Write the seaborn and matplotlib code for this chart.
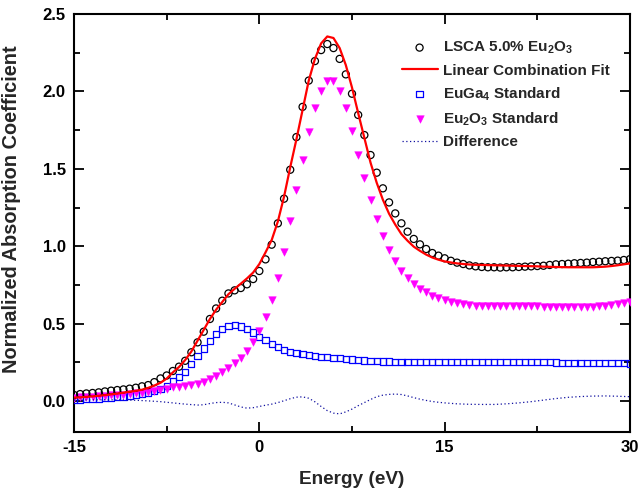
import numpy as np
import pandas as pd
import matplotlib
matplotlib.use("Agg")
import matplotlib.pyplot as plt
import seaborn as sns

# ---------------- data ----------------
energy = [-15, -14.5, -14, -13.5, -13, -12.5, -12, -11.5, -11, -10.5,
          -10, -9.5, -9, -8.5, -8, -7.5, -7, -6.5, -6, -5.5,
          -5, -4.5, -4, -3.5, -3, -2.5, -2, -1.5, -1, -0.5,
          0, 0.5, 1, 1.5, 2, 2.5, 3, 3.5, 4, 4.5,
          5, 5.5, 6, 6.5, 7, 7.5, 8, 8.5, 9, 9.5,
          10, 10.5, 11, 11.5, 12, 12.5, 13, 13.5, 14, 14.5,
          15, 15.5, 16, 16.5, 17, 17.5, 18, 18.5, 19, 19.5,
          20, 20.5, 21, 21.5, 22, 22.5, 23, 23.5, 24, 24.5,
          25, 25.5, 26, 26.5, 27, 27.5, 28, 28.5, 29, 29.5, 30]

lsca = [0.039, 0.045, 0.049, 0.052, 0.056, 0.062, 0.067, 0.071, 0.075, 0.080,
        0.086, 0.095, 0.103, 0.122, 0.146, 0.165, 0.194, 0.222, 0.260, 0.315,
        0.379, 0.448, 0.530, 0.598, 0.648, 0.695, 0.715, 0.730, 0.754, 0.788,
        0.840, 0.915, 1.010, 1.148, 1.307, 1.494, 1.705, 1.900, 2.070, 2.196,
        2.267, 2.306, 2.280, 2.210, 2.110, 1.985, 1.848, 1.718, 1.589, 1.475,
        1.374, 1.283, 1.212, 1.148, 1.094, 1.047, 1.012, 0.982, 0.956, 0.939,
        0.922, 0.906, 0.894, 0.885, 0.876, 0.870, 0.866, 0.864, 0.864, 0.862,
        0.864, 0.864, 0.866, 0.868, 0.870, 0.872, 0.874, 0.879, 0.883, 0.885,
        0.887, 0.890, 0.892, 0.894, 0.898, 0.900, 0.903, 0.905, 0.907, 0.911, 0.917]

fit = [0.022, 0.024, 0.027, 0.030, 0.034, 0.038, 0.043, 0.048, 0.054, 0.060,
       0.066, 0.073, 0.085, 0.100, 0.118, 0.145, 0.185, 0.220, 0.265, 0.320,
       0.390, 0.460, 0.530, 0.590, 0.640, 0.690, 0.725, 0.758, 0.792, 0.830,
       0.885, 0.960, 1.040, 1.160, 1.320, 1.510, 1.690, 1.880, 2.070, 2.210,
       2.310, 2.355, 2.345, 2.280, 2.170, 2.025, 1.860, 1.700, 1.540, 1.410,
       1.300, 1.210, 1.140, 1.078, 1.035, 0.997, 0.970, 0.946, 0.927, 0.913,
       0.902, 0.895, 0.889, 0.885, 0.882, 0.880, 0.879, 0.878, 0.877, 0.876,
       0.875, 0.874, 0.873, 0.872, 0.871, 0.870, 0.868, 0.867, 0.866, 0.865,
       0.864, 0.864, 0.864, 0.864, 0.864, 0.866, 0.868, 0.872, 0.877, 0.883, 0.889]

euga4 = [0.008, 0.010, 0.012, 0.014, 0.016, 0.019, 0.022, 0.025, 0.029, 0.034,
         0.040, 0.047, 0.055, 0.066, 0.080, 0.099, 0.127, 0.153, 0.190, 0.239,
         0.291, 0.340, 0.390, 0.431, 0.463, 0.484, 0.490, 0.482, 0.465, 0.443,
         0.416, 0.392, 0.368, 0.347, 0.330, 0.319, 0.308, 0.302, 0.295, 0.289,
         0.284, 0.282, 0.278, 0.276, 0.272, 0.268, 0.265, 0.262, 0.260, 0.258,
         0.256, 0.255, 0.254, 0.253, 0.253, 0.253, 0.253, 0.253, 0.254, 0.254,
         0.254, 0.254, 0.254, 0.254, 0.254, 0.254, 0.254, 0.253, 0.253, 0.253,
         0.253, 0.253, 0.253, 0.252, 0.252, 0.251, 0.250, 0.250, 0.249, 0.248,
         0.248, 0.247, 0.247, 0.246, 0.246, 0.245, 0.245, 0.244, 0.244, 0.244, 0.243]

eu2o3 = [0.022, 0.024, 0.026, 0.028, 0.030, 0.033, 0.036, 0.039, 0.042, 0.046,
         0.050, 0.055, 0.060, 0.065, 0.071, 0.080, 0.088, 0.092, 0.097, 0.103,
         0.110, 0.122, 0.140, 0.161, 0.185, 0.215, 0.246, 0.281, 0.325, 0.381,
         0.452, 0.545, 0.653, 0.795, 0.963, 1.160, 1.363, 1.559, 1.740, 1.891,
         2.003, 2.065, 2.065, 2.003, 1.891, 1.746, 1.589, 1.438, 1.298, 1.173,
         1.066, 0.975, 0.904, 0.842, 0.793, 0.754, 0.724, 0.702, 0.680, 0.663,
         0.652, 0.642, 0.633, 0.627, 0.620, 0.616, 0.614, 0.612, 0.612, 0.614,
         0.616, 0.614, 0.614, 0.614, 0.612, 0.612, 0.609, 0.609, 0.607, 0.607,
         0.605, 0.605, 0.605, 0.607, 0.609, 0.614, 0.616, 0.620, 0.625, 0.633, 0.642]

diff_energy = [-15, -14, -13, -12, -11, -10, -9, -8, -7, -6,
               -5, -4.5, -4, -3.5, -3, -2.5, -2, -1.5, -1, -0.5,
               0, 0.5, 1, 1.5, 2, 2.5, 3, 3.5, 4, 4.5,
               5, 5.5, 6, 6.5, 7, 7.5, 8, 8.5, 9, 9.5,
               10, 10.5, 11, 11.5, 12, 12.5, 13, 13.5, 14, 14.5,
               15, 16, 17, 18, 19, 20, 21, 22, 23, 24,
               25, 26, 27, 28, 29, 30]
difference = [0.006, 0.007, 0.008, 0.008, 0.007, 0.005, 0.001, -0.004, -0.012, -0.020,
              -0.026, -0.024, -0.016, -0.010, -0.008, -0.012, -0.025, -0.038, -0.046, -0.043,
              -0.035, -0.027, -0.020, -0.010, 0.002, 0.015, 0.025, 0.027, 0.018, -0.005,
              -0.035, -0.062, -0.078, -0.083, -0.070, -0.052, -0.030, -0.010, 0.010, 0.028,
              0.038, 0.043, 0.045, 0.042, 0.033, 0.022, 0.012, 0.004, -0.003, -0.008,
              -0.012, -0.018, -0.021, -0.022, -0.022, -0.018, -0.012, -0.004, 0.006, 0.016,
              0.024, 0.029, 0.032, 0.033, 0.031, 0.028]

x_ticks = [-15, 0, 15, 30]
y_ticks = [0.0, 0.5, 1.0, 1.5, 2.0, 2.5]

# ---------------- style ----------------
sns.set_theme(style="ticks")
plt.rcParams["font.family"] = ["Liberation Sans", "DejaVu Sans"]
plt.rcParams["font.weight"] = "bold"
plt.rcParams["mathtext.fontset"] = "custom"
plt.rcParams["mathtext.rm"] = "Liberation Sans:bold"
plt.rcParams["mathtext.bf"] = "Liberation Sans:bold"
plt.rcParams["mathtext.it"] = "Liberation Sans:bold"
plt.rcParams["mathtext.default"] = "bf"

fig = plt.figure(figsize=(6.4, 4.92), dpi=100)
ax = fig.add_axes([74 / 640, 1 - 432 / 492, 556 / 640, 418 / 492])

main = pd.DataFrame({"energy": energy, "lsca": lsca, "fit": fit,
                     "euga4": euga4, "eu2o3": eu2o3})
dd = pd.DataFrame({"energy": diff_energy, "difference": difference})

sns.scatterplot(data=main, x="energy", y="euga4", ax=ax, marker="s", s=20,
                facecolor="none", edgecolor="#0000FF", linewidth=0.9,
                label="EuGa$_4$ Standard", zorder=3)
sns.scatterplot(data=main, x="energy", y="eu2o3", ax=ax, marker="v", s=30,
                color="#FF00FF", edgecolor="#FF00FF", linewidth=0.3,
                label="Eu$_2$O$_3$ Standard", zorder=3)
sns.scatterplot(data=main, x="energy", y="lsca", ax=ax, marker="o", s=26,
                facecolor="none", edgecolor="black", linewidth=0.9,
                label="LSCA 5.0% Eu$_2$O$_3$", zorder=4)
sns.lineplot(data=main, x="energy", y="fit", ax=ax, color="#FF0000",
             linewidth=1.6, sort=False, estimator=None,
             label="Linear Combination Fit", zorder=5)
sns.lineplot(data=dd, x="energy", y="difference", ax=ax, color="#1010A0",
             linewidth=0.9, linestyle=(0, (1, 2)), sort=False, estimator=None,
             label="Difference", zorder=5)

ax.set_xlim(-15, 30)
ax.set_ylim(-0.2, 2.5)
ax.set_xticks(x_ticks)
ax.set_yticks(y_ticks)
ax.set_xticklabels([str(t) for t in x_ticks])
ax.set_yticklabels([f"{t:.1f}" for t in y_ticks])
ax.set_xticks([-7.5, 7.5, 22.5], minor=True)
ax.set_yticks([-0.25 + 0.5 * i for i in range(1, 6)], minor=True)
ax.tick_params(which="both", direction="in", top=True, right=True,
               width=1.3, colors="black")
ax.tick_params(which="major", length=7, labelsize=12, pad=6)
ax.tick_params(which="minor", length=4)
for lab in ax.get_xticklabels() + ax.get_yticklabels():
    lab.set_fontweight("bold")
for sp in ax.spines.values():
    sp.set_linewidth(1.5)
    sp.set_color("black")

ax.set_xlabel("Energy (eV)", fontsize=13.7, fontweight="bold", labelpad=11)
ax.set_ylabel("Normalized Absorption Coefficient", fontsize=14.4,
              fontweight="bold")
ax.yaxis.set_label_coords(-0.095, 0.5335)

handles, labels = ax.get_legend_handles_labels()
order = ["LSCA 5.0% Eu$_2$O$_3$", "Linear Combination Fit", "EuGa$_4$ Standard",
         "Eu$_2$O$_3$ Standard", "Difference"]
hmap = dict(zip(labels, handles))
ax.legend([hmap[k] for k in order], order, loc="upper left",
          bbox_to_anchor=(0.5755, 0.957), frameon=False,
          handlelength=2.35, handletextpad=0.33, labelspacing=0.5,
          borderpad=0, prop={"weight": "bold", "size": 11})

fig.savefig("out.png", dpi=100)
